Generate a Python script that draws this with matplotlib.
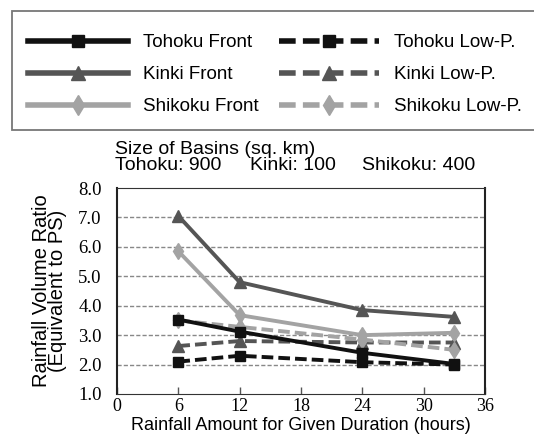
import matplotlib.pyplot as plt
from matplotlib.lines import Line2D
from matplotlib.patches import Rectangle

# durations (hours)
hours = [6, 12, 24, 33]

# rainfall volume ratio
tohoku_front = [3.53, 3.12, 2.40, 2.02]
tohoku_low = [2.10, 2.30, 2.08, 2.00]
kinki_front = [7.05, 4.80, 3.85, 3.62]
kinki_low = [2.63, 2.80, 2.75, 2.75]
shikoku_front = [5.85, 3.68, 3.00, 3.08]
shikoku_low = [3.50, 3.28, 2.85, 2.50]

labels = ['Tohoku Front', 'Tohoku Low-P.', 'Kinki Front', 'Kinki Low-P.',
          'Shikoku Front', 'Shikoku Low-P.']
xticks = [0, 6, 12, 18, 24, 30, 36]
yticks = [1.0, 2.0, 3.0, 4.0, 5.0, 6.0, 7.0, 8.0]

black = '#111111'
dark = '#555555'
light = '#a3a3a3'
dash = (0, (3.0, 1.3))

sans = 'Liberation Sans'
serif = 'Liberation Serif'

fig = plt.figure(figsize=(5.34, 4.38), dpi=100)
ax = fig.add_axes([117/534, 1-394/438, 368/534, 206/438])

series = [
    (tohoku_front, black, '-', 's', 7),
    (tohoku_low, black, dash, 's', 7),
    (kinki_front, dark, '-', '^', 8),
    (kinki_low, dark, dash, '^', 8),
    (shikoku_front, light, '-', 'd', 8),
    (shikoku_low, light, dash, 'd', 8),
]
# draw low-pressure (dashed) series first so fronts sit on top
for vals, c, ls, m, ms in [series[i] for i in (1, 3, 5, 0, 2, 4)]:
    ax.plot(hours, vals, color=c, linestyle=ls, linewidth=2.8,
            marker=m, markersize=ms, markeredgecolor=c)

ax.set_xlim(0, 36)
ax.set_ylim(1, 8)
ax.set_xticks(xticks)
ax.set_yticks(yticks)
ax.set_xticklabels([str(t) for t in xticks], fontfamily=serif, fontsize=13)
ax.set_yticklabels(['%.1f' % t for t in yticks], fontfamily=serif, fontsize=13.5)
ax.tick_params(axis='x', direction='in', length=5, width=1, color='#555555', pad=3)
ax.tick_params(axis='y', length=0, pad=11)
for y in yticks[1:-1]:
    ax.axhline(y, color='#888888', linestyle=(0, (3, 1.5)), linewidth=1, zorder=0)
for s in ['top', 'bottom']:
    ax.spines[s].set_linestyle((0, (2, 1)))
    ax.spines[s].set_color('#333333')
for s in ['left', 'right']:
    ax.spines[s].set_linewidth(1.5)
    ax.spines[s].set_color('#222222')

ax.set_xlabel('Rainfall Amount for Given Duration (hours)', fontfamily=sans,
              fontsize=13, labelpad=1)
ax.set_ylabel('Rainfall Volume Ratio\n(Equivalent to PS)', fontfamily=sans,
              fontsize=14.5, linespacing=0.8, labelpad=8)

# basin sizes above the plot
fs = 14
fig.text(115/534, 1-149/438, 'Size of Basins (sq. km)', fontfamily=sans,
         fontsize=fs, va='center', ha='left')
fig.text(115/534, 1-166/438, 'Tohoku: 900', fontfamily=sans,
         fontsize=fs, va='center', ha='left')
fig.text(250/534, 1-166/438, 'Kinki: 100', fontfamily=sans,
         fontsize=fs, va='center', ha='left')
fig.text(362/534, 1-166/438, 'Shikoku: 400', fontfamily=sans,
         fontsize=fs, va='center', ha='left')

# legend box runs past the right edge of the picture
fig.patches.append(Rectangle((12/534, 1-130/438), 540/534, 119/438,
                             transform=fig.transFigure, facecolor='white',
                             edgecolor='#777777', linewidth=1.3, zorder=0))

handles = []
for vals, c, ls, m, ms in series:
    handles.append(Line2D([], [], color=c, linestyle=ls, linewidth=4,
                          marker=m, markersize=ms + 2, markeredgecolor=c))
order = [0, 2, 4, 1, 3, 5]
leg = fig.legend([handles[i] for i in order], [labels[i] for i in order],
                 loc='upper left', ncol=2,
                 bbox_to_anchor=(28/534, 1-34/438),
                 prop={'family': sans, 'size': 13.5},
                 handlelength=5.35, handletextpad=0.8, labelspacing=0.8,
                 columnspacing=1.05, borderaxespad=0, borderpad=0,
                 frameon=False)

fig.savefig('out.png', dpi=100)
